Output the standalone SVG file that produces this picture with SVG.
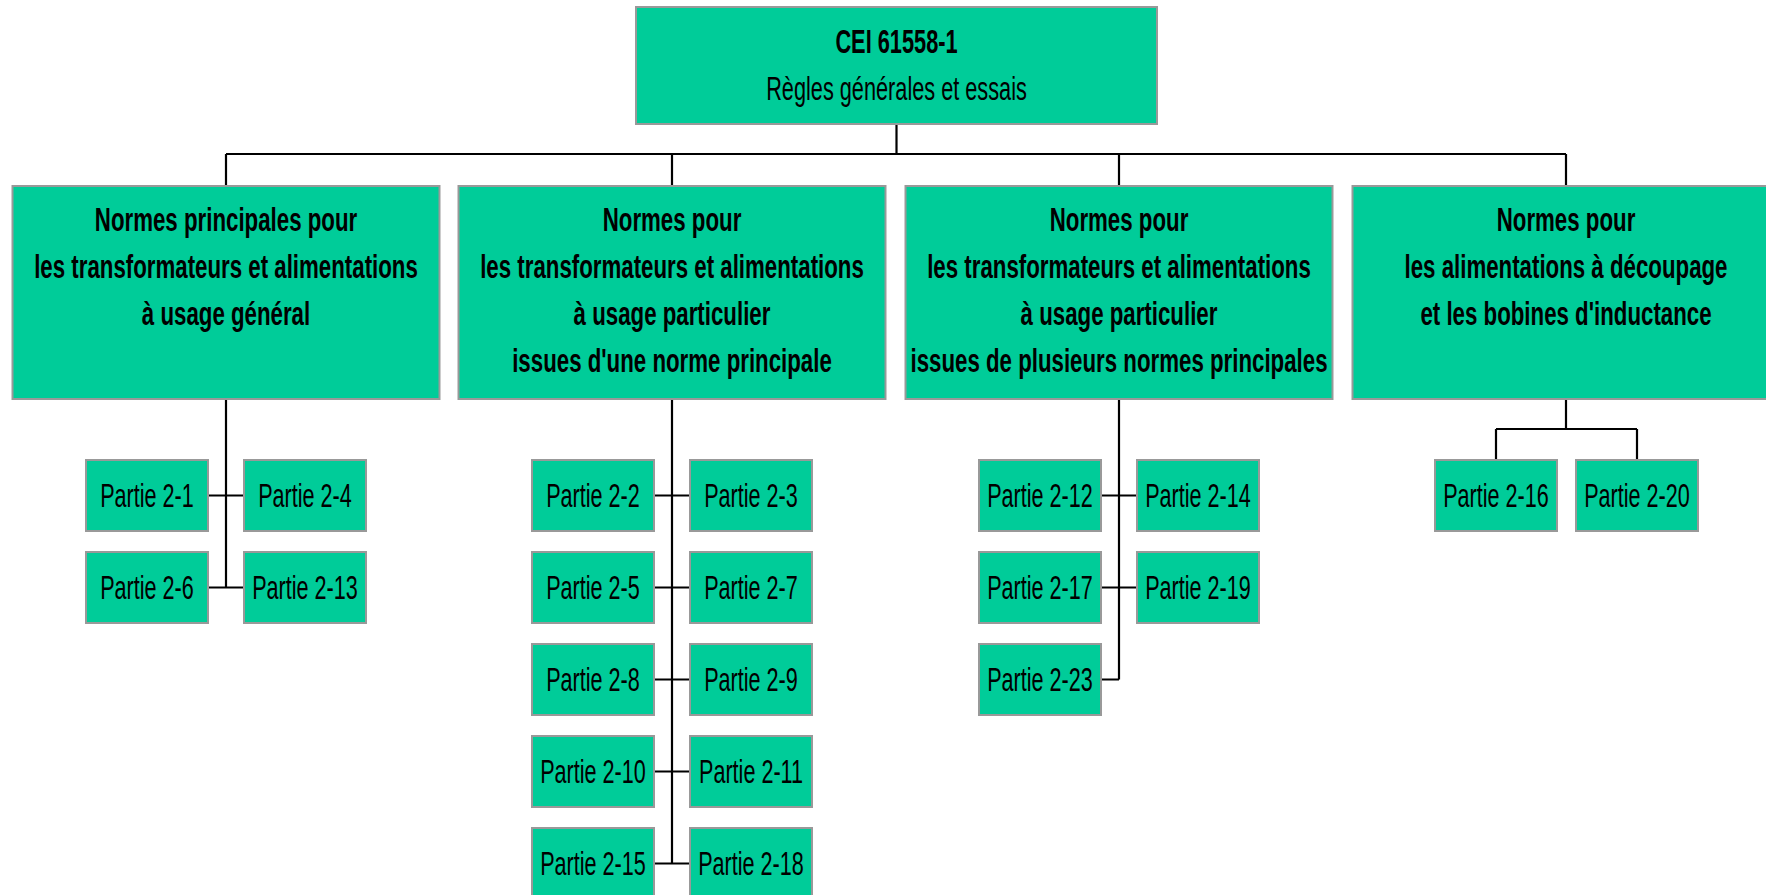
<svg xmlns="http://www.w3.org/2000/svg" width="1766" height="895" viewBox="0 0 1766 895">
<style>
.box{fill:#00CC99;stroke:#999999;stroke-width:2}
.ln{stroke:#000;stroke-width:2.2;fill:none}
text{font-family:"Liberation Sans",Arial,sans-serif;font-size:33px;fill:#000;text-anchor:middle}
.b{font-weight:bold}
.h{font-weight:bold;font-size:33.5px}
</style>
<rect width="1766" height="895" fill="#fff"/>
<g id="connectors">
<path class="ln" d="M896.5,124V154M226,154H1566M226,154V186M672,154V186M1119,154V186M1566,154V186"/>
<path class="ln" d="M226,399V587.5M208,495.5H244M208,587.5H244"/>
<path class="ln" d="M672,399V863.5M654,495.5H690M654,587.5H690M654,679.5H690M654,771.5H690M654,863.5H690"/>
<path class="ln" d="M1119,399V679.5M1101,495.5H1137M1101,587.5H1137M1101,679.5H1119"/>
<path class="ln" d="M1566,399V429M1496,429H1637M1496,429V460M1637,429V460"/>
</g>
<g id="root">
<rect class="box" x="636" y="7" width="521" height="117"/>
<text class="b" transform="translate(896.5,53) scale(0.66,1)">CEI 61558-1</text>
<text transform="translate(896.5,100) scale(0.658,1)">Règles générales et essais</text>
</g>
<g id="cat1">
<rect class="box" x="12.5" y="186" width="427" height="213"/>
<text class="h" transform="translate(226,231) scale(0.665,1)">Normes principales pour</text>
<text class="h" transform="translate(226,278) scale(0.665,1)">les transformateurs et alimentations</text>
<text class="h" transform="translate(226,325) scale(0.665,1)">à usage général</text>
</g>
<g id="cat2">
<rect class="box" x="458.5" y="186" width="427" height="213"/>
<text class="h" transform="translate(672,231) scale(0.665,1)">Normes pour</text>
<text class="h" transform="translate(672,278) scale(0.665,1)">les transformateurs et alimentations</text>
<text class="h" transform="translate(672,325) scale(0.665,1)">à usage particulier</text>
<text class="h" transform="translate(672,372) scale(0.665,1)">issues d'une norme principale</text>
</g>
<g id="cat3">
<rect class="box" x="905.5" y="186" width="427" height="213"/>
<text class="h" transform="translate(1119,231) scale(0.665,1)">Normes pour</text>
<text class="h" transform="translate(1119,278) scale(0.665,1)">les transformateurs et alimentations</text>
<text class="h" transform="translate(1119,325) scale(0.665,1)">à usage particulier</text>
<text class="h" transform="translate(1119,372) scale(0.665,1)">issues de plusieurs normes principales</text>
</g>
<g id="cat4">
<rect class="box" x="1352.5" y="186" width="427" height="213"/>
<text class="h" transform="translate(1566,231) scale(0.665,1)">Normes pour</text>
<text class="h" transform="translate(1566,278) scale(0.665,1)">les alimentations à découpage</text>
<text class="h" transform="translate(1566,325) scale(0.665,1)">et les bobines d'inductance</text>
</g>
<g id="p2-1"><rect class="box" x="86" y="460" width="122" height="71"/><text transform="translate(147,507) scale(0.655,1)">Partie 2-1</text></g>
<g id="p2-4"><rect class="box" x="244" y="460" width="122" height="71"/><text transform="translate(305,507) scale(0.655,1)">Partie 2-4</text></g>
<g id="p2-6"><rect class="box" x="86" y="552" width="122" height="71"/><text transform="translate(147,599) scale(0.655,1)">Partie 2-6</text></g>
<g id="p2-13"><rect class="box" x="244" y="552" width="122" height="71"/><text transform="translate(305,599) scale(0.655,1)">Partie 2-13</text></g>
<g id="p2-2"><rect class="box" x="532" y="460" width="122" height="71"/><text transform="translate(593,507) scale(0.655,1)">Partie 2-2</text></g>
<g id="p2-3"><rect class="box" x="690" y="460" width="122" height="71"/><text transform="translate(751,507) scale(0.655,1)">Partie 2-3</text></g>
<g id="p2-5"><rect class="box" x="532" y="552" width="122" height="71"/><text transform="translate(593,599) scale(0.655,1)">Partie 2-5</text></g>
<g id="p2-7"><rect class="box" x="690" y="552" width="122" height="71"/><text transform="translate(751,599) scale(0.655,1)">Partie 2-7</text></g>
<g id="p2-8"><rect class="box" x="532" y="644" width="122" height="71"/><text transform="translate(593,691) scale(0.655,1)">Partie 2-8</text></g>
<g id="p2-9"><rect class="box" x="690" y="644" width="122" height="71"/><text transform="translate(751,691) scale(0.655,1)">Partie 2-9</text></g>
<g id="p2-10"><rect class="box" x="532" y="736" width="122" height="71"/><text transform="translate(593,783) scale(0.655,1)">Partie 2-10</text></g>
<g id="p2-11"><rect class="box" x="690" y="736" width="122" height="71"/><text transform="translate(751,783) scale(0.655,1)">Partie 2-11</text></g>
<g id="p2-15"><rect class="box" x="532" y="828" width="122" height="71"/><text transform="translate(593,875) scale(0.655,1)">Partie 2-15</text></g>
<g id="p2-18"><rect class="box" x="690" y="828" width="122" height="71"/><text transform="translate(751,875) scale(0.655,1)">Partie 2-18</text></g>
<g id="p2-12"><rect class="box" x="979" y="460" width="122" height="71"/><text transform="translate(1040,507) scale(0.655,1)">Partie 2-12</text></g>
<g id="p2-14"><rect class="box" x="1137" y="460" width="122" height="71"/><text transform="translate(1198,507) scale(0.655,1)">Partie 2-14</text></g>
<g id="p2-17"><rect class="box" x="979" y="552" width="122" height="71"/><text transform="translate(1040,599) scale(0.655,1)">Partie 2-17</text></g>
<g id="p2-19"><rect class="box" x="1137" y="552" width="122" height="71"/><text transform="translate(1198,599) scale(0.655,1)">Partie 2-19</text></g>
<g id="p2-23"><rect class="box" x="979" y="644" width="122" height="71"/><text transform="translate(1040,691) scale(0.655,1)">Partie 2-23</text></g>
<g id="p2-16"><rect class="box" x="1435" y="460" width="122" height="71"/><text transform="translate(1496,507) scale(0.655,1)">Partie 2-16</text></g>
<g id="p2-20"><rect class="box" x="1576" y="460" width="122" height="71"/><text transform="translate(1637,507) scale(0.655,1)">Partie 2-20</text></g>
</svg>
